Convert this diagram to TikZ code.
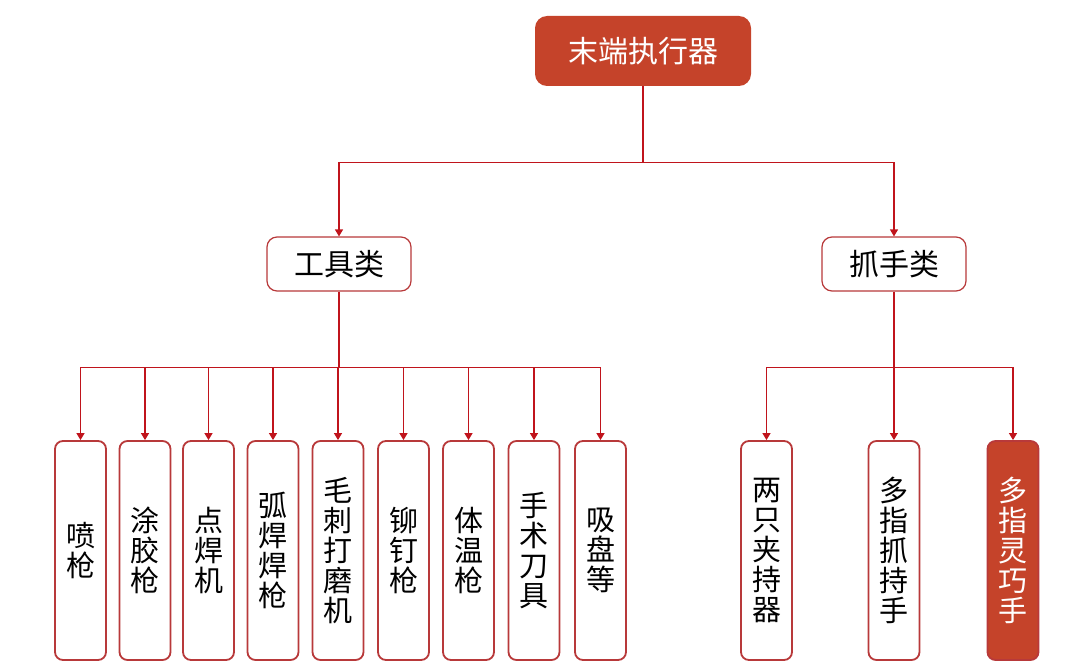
\documentclass[tikz,border=0pt]{standalone}
\usepackage{fontspec}
\newfontfamily\cjk{Noto Sans CJK SC}
\definecolor{endred}{HTML}{C5432A}
\definecolor{boxred}{HTML}{B8393A}
\definecolor{linered}{HTML}{C0141C}
\usetikzlibrary{arrows.meta, positioning, calc}

\begin{document}
\begin{tikzpicture}[x=1pt, y=-1pt,
	every node/.style={font=\cjk\fontsize{30}{32}\selectfont},
	topbox/.style={rectangle, rounded corners=12pt, fill=endred, text=white, minimum width=216pt, minimum height=70pt},
	midbox/.style={rectangle, rounded corners=10pt, draw=boxred, line width=1.2pt, fill=white, minimum width=144pt, minimum height=54pt},
	leafbox/.style={rectangle, rounded corners=8pt, draw=boxred, line width=1.8pt, fill=white, minimum width=51pt, minimum height=219pt, align=center, inner sep=0pt, font=\cjk\fontsize{29}{30}\selectfont},
	hotbox/.style={leafbox, fill=endred, text=white},
	link/.style={draw=linered, line width=1.2pt, -{Triangle[width=8pt,length=7pt]}}]
			
			\useasboundingbox (0,0) rectangle (1080,669);
			
			% Top
			\node[topbox] (end) at (643,51) {末端执行器};
			\node[midbox] (tool) at (339,264) {工具类};
			\node[midbox] (grip) at (894,264) {抓手类};
			
			\draw[link] (end.south) -- ++(0,76) -| (tool.north);
			\draw[link] (end.south) -- ++(0,76) -| (grip.north);
			
			% Tools
			\foreach \x/\txt [count=\i] in {80.5/{喷\\枪}, 145/{涂\\胶\\枪}, 208.5/{点\\焊\\机}, 273/{弧\\焊\\焊\\枪}, 338/{毛\\刺\\打\\磨\\机}, 403.5/{铆\\钉\\枪}, 468.5/{体\\温\\枪}, 534/{手\\术\\刀\\具}, 600.5/{吸\\盘\\等}}
			{
				\node[leafbox] (t\i) at (\x,550.5) {\txt};
			}
			\draw[draw=linered, line width=1.2pt] (tool.south) -- ++(0,76) coordinate (tb);
			\foreach \i in {1,...,9}
			{
				\draw[link] (tb) -| (t\i.north);
			}
			
			% Grippers
			\node[leafbox] (g1) at (766.5,550.5) {两\\只\\夹\\持\\器};
			\node[leafbox] (g2) at (894,550.5) {多\\指\\抓\\持\\手};
			\node[hotbox] (g3) at (1013,550.5) {多\\指\\灵\\巧\\手};
			\draw[draw=linered, line width=1.2pt] (grip.south) -- ++(0,76) coordinate (gb);
			\foreach \i in {1,2,3}
			{
				\draw[link] (gb) -| (g\i.north);
			}
			
\end{tikzpicture}
\end{document}
